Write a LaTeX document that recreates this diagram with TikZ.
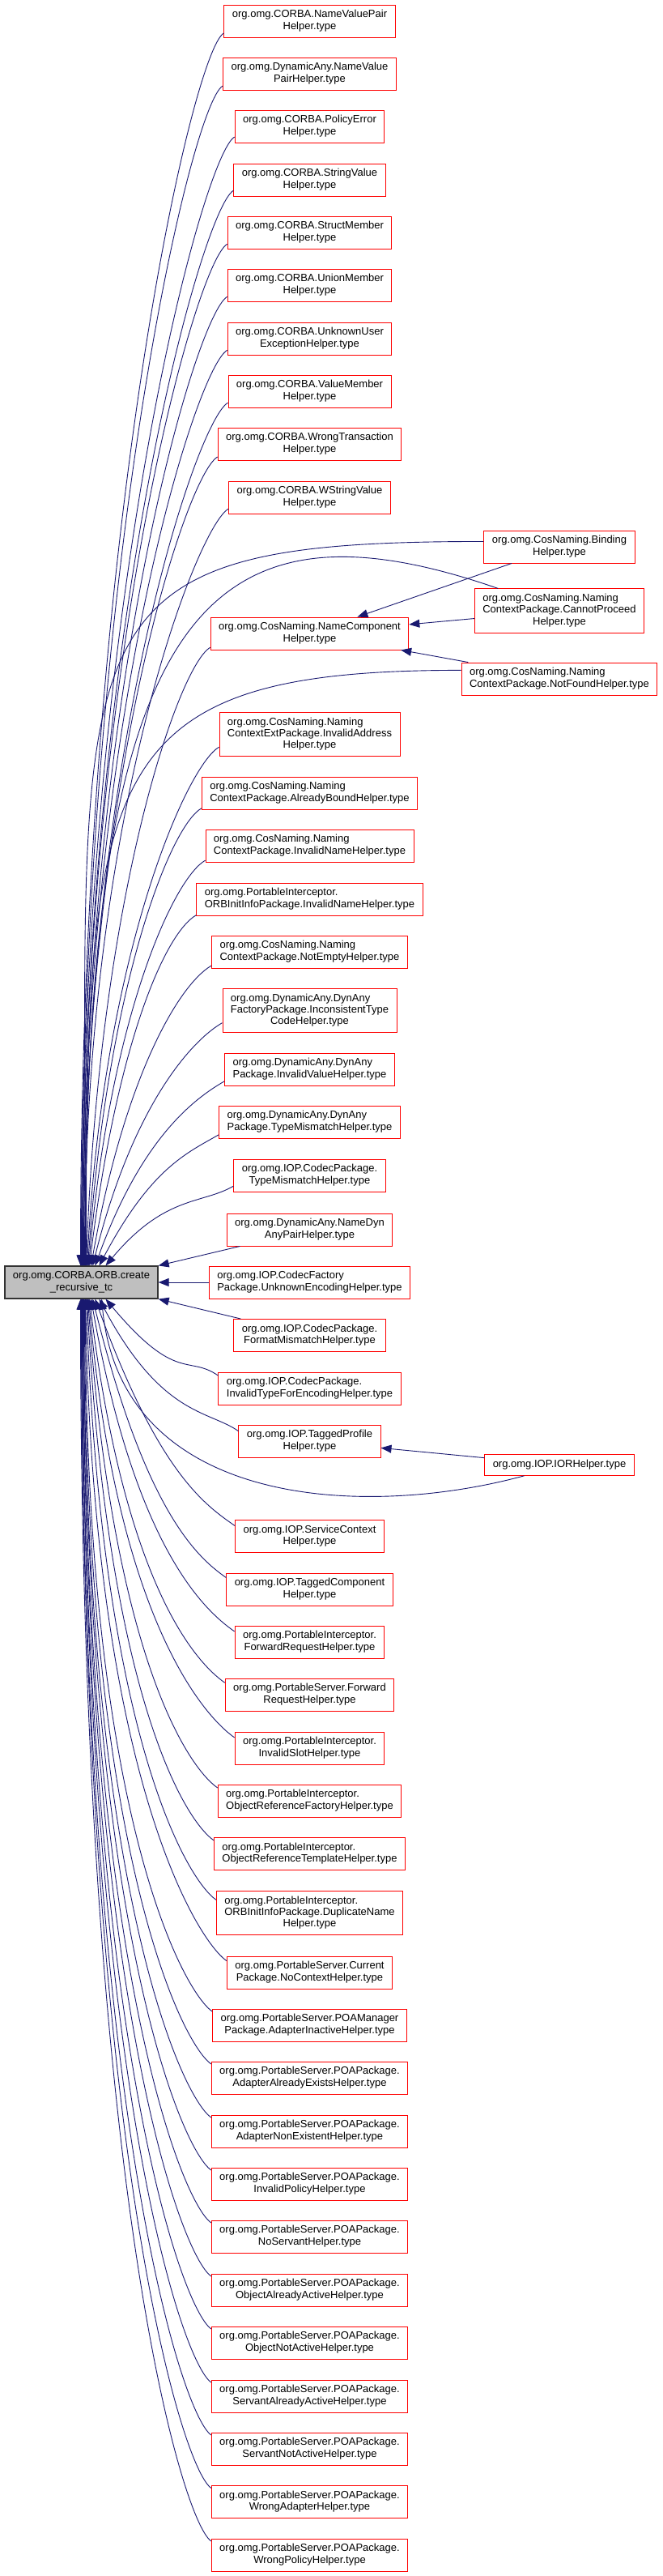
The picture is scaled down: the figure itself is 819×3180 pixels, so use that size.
\documentclass[tikz,border=0pt]{standalone}
\usepackage{fontspec}
\setmainfont{Liberation Sans}
\usetikzlibrary{arrows.meta}
\definecolor{edgec}{RGB}{25,25,112}
\definecolor{boxc}{RGB}{255,0,0}
\definecolor{focusc}{RGB}{191,191,191}
\newcommand{\oneline}[1]{\begin{tabular}{@{}c@{}}#1\end{tabular}}
\newcommand{\twoline}[2]{\begin{tabular}{@{}l@{}}#1\\\multicolumn{1}{@{}c@{}}{#2}\end{tabular}}
\newcommand{\threeline}[3]{\begin{tabular}{@{}l@{}}#1\\#2\\\multicolumn{1}{@{}c@{}}{#3}\end{tabular}}

\begin{document}
\begin{tikzpicture}[x=1pt, y=1pt, >={Triangle[length=13pt,width=10pt]},
  helper/.style={draw=boxc, fill=white, line width=0.9pt, inner xsep=10pt, inner ysep=5.7pt,
    font=\fontsize{13}{14.3}\selectfont},
  mainbox/.style={helper, draw=black!80, line width=1.2pt, fill=focusc},
  calledge/.style={->, draw=edgec, line width=0.9pt}]
  \useasboundingbox (0,0) rectangle (819,-3180);

  % the function itself
  \node[mainbox] (orbrtc) at (100.5,-1583) {\twoline{org.omg.CORBA.ORB.create}{\_recursive\_tc}};

  % callers, middle column
  \node[helper] (nvp)       at (382.5,-26)     {\twoline{org.omg.CORBA.NameValuePair}{Helper.type}};
  \node[helper] (dnvp)      at (382.5,-91)     {\twoline{org.omg.DynamicAny.NameValue}{PairHelper.type}};
  \node[helper] (polerr)    at (382.5,-156)    {\twoline{org.omg.CORBA.PolicyError}{Helper.type}};
  \node[helper] (strval)    at (382.5,-222)    {\twoline{org.omg.CORBA.StringValue}{Helper.type}};
  \node[helper] (structm)   at (382.5,-287)    {\twoline{org.omg.CORBA.StructMember}{Helper.type}};
  \node[helper] (unionm)    at (382.5,-352)    {\twoline{org.omg.CORBA.UnionMember}{Helper.type}};
  \node[helper] (unkuser)   at (382.5,-418)    {\twoline{org.omg.CORBA.UnknownUser}{ExceptionHelper.type}};
  \node[helper] (valuem)    at (382.5,-483)    {\twoline{org.omg.CORBA.ValueMember}{Helper.type}};
  \node[helper] (wrongtx)   at (382.5,-548)    {\twoline{org.omg.CORBA.WrongTransaction}{Helper.type}};
  \node[helper] (wstrval)   at (382.5,-614)    {\twoline{org.omg.CORBA.WStringValue}{Helper.type}};
  \node[helper] (namecomp)  at (382.5,-782)    {\twoline{org.omg.CosNaming.NameComponent}{Helper.type}};
  \node[helper] (invaddr)   at (382.5,-906.5)  {\threeline{org.omg.CosNaming.Naming}{ContextExtPackage.InvalidAddress}{Helper.type}};
  \node[helper] (albound)   at (382.5,-979)    {\twoline{org.omg.CosNaming.Naming}{ContextPackage.AlreadyBoundHelper.type}};
  \node[helper] (invname)   at (382.5,-1044)   {\twoline{org.omg.CosNaming.Naming}{ContextPackage.InvalidNameHelper.type}};
  \node[helper] (piinvname) at (382.5,-1110)   {\twoline{org.omg.PortableInterceptor.}{ORBInitInfoPackage.InvalidNameHelper.type}};
  \node[helper] (notempty)  at (382.5,-1175)   {\twoline{org.omg.CosNaming.Naming}{ContextPackage.NotEmptyHelper.type}};
  \node[helper] (inconsist) at (382.5,-1247.5) {\threeline{org.omg.DynamicAny.DynAny}{FactoryPackage.InconsistentType}{CodeHelper.type}};
  \node[helper] (invvalue)  at (382.5,-1320)   {\twoline{org.omg.DynamicAny.DynAny}{Package.InvalidValueHelper.type}};
  \node[helper] (dtypemis)  at (382.5,-1385)   {\twoline{org.omg.DynamicAny.DynAny}{Package.TypeMismatchHelper.type}};
  \node[helper] (ctypemis)  at (382.5,-1451)   {\twoline{org.omg.IOP.CodecPackage.}{TypeMismatchHelper.type}};
  \node[helper] (namedyn)   at (382.5,-1518)   {\twoline{org.omg.DynamicAny.NameDyn}{AnyPairHelper.type}};
  \node[helper] (unkenc)    at (382.5,-1583)   {\twoline{org.omg.IOP.CodecFactory}{Package.UnknownEncodingHelper.type}};
  \node[helper] (fmtmis)    at (382.5,-1648.5) {\twoline{org.omg.IOP.CodecPackage.}{FormatMismatchHelper.type}};
  \node[helper] (invtype)   at (382.5,-1714)   {\twoline{org.omg.IOP.CodecPackage.}{InvalidTypeForEncodingHelper.type}};
  \node[helper] (tprofile)  at (382.5,-1779)   {\twoline{org.omg.IOP.TaggedProfile}{Helper.type}};
  \node[helper] (svcctx)    at (382.5,-1896.5) {\twoline{org.omg.IOP.ServiceContext}{Helper.type}};
  \node[helper] (tcomp)     at (382.5,-1962)   {\twoline{org.omg.IOP.TaggedComponent}{Helper.type}};
  \node[helper] (pifwd)     at (382.5,-2027)   {\twoline{org.omg.PortableInterceptor.}{ForwardRequestHelper.type}};
  \node[helper] (psfwd)     at (382.5,-2092)   {\twoline{org.omg.PortableServer.Forward}{RequestHelper.type}};
  \node[helper] (invslot)   at (382.5,-2158)   {\twoline{org.omg.PortableInterceptor.}{InvalidSlotHelper.type}};
  \node[helper] (orfact)    at (382.5,-2223)   {\twoline{org.omg.PortableInterceptor.}{ObjectReferenceFactoryHelper.type}};
  \node[helper] (ortempl)   at (382.5,-2288.5) {\twoline{org.omg.PortableInterceptor.}{ObjectReferenceTemplateHelper.type}};
  \node[helper] (dupname)   at (382.5,-2361.5) {\threeline{org.omg.PortableInterceptor.}{ORBInitInfoPackage.DuplicateName}{Helper.type}};
  \node[helper] (nocontext) at (382.5,-2435)   {\twoline{org.omg.PortableServer.Current}{Package.NoContextHelper.type}};
  \node[helper] (adinact)   at (382.5,-2500)   {\twoline{org.omg.PortableServer.POAManager}{Package.AdapterInactiveHelper.type}};
  \node[helper] (adexists)  at (382.5,-2565)   {\twoline{org.omg.PortableServer.POAPackage.}{AdapterAlreadyExistsHelper.type}};
  \node[helper] (adnonex)   at (382.5,-2631)   {\twoline{org.omg.PortableServer.POAPackage.}{AdapterNonExistentHelper.type}};
  \node[helper] (invpolicy) at (382.5,-2696)   {\twoline{org.omg.PortableServer.POAPackage.}{InvalidPolicyHelper.type}};
  \node[helper] (noservant) at (382.5,-2761)   {\twoline{org.omg.PortableServer.POAPackage.}{NoServantHelper.type}};
  \node[helper] (objactive) at (382.5,-2827)   {\twoline{org.omg.PortableServer.POAPackage.}{ObjectAlreadyActiveHelper.type}};
  \node[helper] (objnotact) at (382.5,-2892)   {\twoline{org.omg.PortableServer.POAPackage.}{ObjectNotActiveHelper.type}};
  \node[helper] (svtactive) at (382.5,-2958)   {\twoline{org.omg.PortableServer.POAPackage.}{ServantAlreadyActiveHelper.type}};
  \node[helper] (svtnotact) at (382.5,-3023)   {\twoline{org.omg.PortableServer.POAPackage.}{ServantNotActiveHelper.type}};
  \node[helper] (wrongadp)  at (382.5,-3088.5) {\twoline{org.omg.PortableServer.POAPackage.}{WrongAdapterHelper.type}};
  \node[helper] (wrongpol)  at (382.5,-3154)   {\twoline{org.omg.PortableServer.POAPackage.}{WrongPolicyHelper.type}};

  % callers, right column
  \node[helper] (binding)  at (691,-675)    {\twoline{org.omg.CosNaming.Binding}{Helper.type}};
  \node[helper] (cannotp)  at (691,-754)    {\threeline{org.omg.CosNaming.Naming}{ContextPackage.CannotProceed}{Helper.type}};
  \node[helper] (notfound) at (691,-838)    {\twoline{org.omg.CosNaming.Naming}{ContextPackage.NotFoundHelper.type}};
  \node[helper] (iorh)     at (691,-1808.5) {\oneline{org.omg.IOP.IORHelper.type}};

  % right column -> middle column
  \draw[calledge] (binding) -- (namecomp);
  \draw[calledge] (cannotp) -- (namecomp);
  \draw[calledge] (notfound) -- (namecomp);
  \draw[calledge] (iorh) -- (tprofile);

  % upper fan (name / end shift / arrival angle / arrival pull)
  \foreach \n/\xs/\ia/\d in {ctypemis/30pt/50/114pt, dtypemis/22pt/62/137pt, invvalue/17pt/70/166pt,
      inconsist/14pt/76/202pt, notempty/12pt/80/240pt, piinvname/10pt/83/275pt, invname/9pt/85/311pt,
      albound/8pt/86/347pt, invaddr/7pt/87/389pt, namecomp/6pt/88/458pt, wstrval/4pt/90/556pt,
      wrongtx/3pt/90/594pt, valuem/3pt/90/632pt, unkuser/2pt/90/669pt, unionm/2pt/90/708pt,
      structm/1pt/90/745pt, strval/1pt/90/783pt, polerr/0pt/90/822pt, dnvp/0pt/90/860pt, nvp/-1pt/90/897pt}
    \draw[calledge] (\n.188) .. controls +(210:45pt) and +(\ia:\d) .. ([xshift=\xs]orbrtc.north);
  \draw[calledge] (binding.176) .. controls +(-537,0) and +(0,803) .. ([xshift=5pt]orbrtc.north);
  \draw[calledge] (cannotp.160) .. controls +(-367,127) and +(0,803) .. ([xshift=5pt]orbrtc.north);
  \draw[calledge] (notfound.175) .. controls +(-450,0) and +(0,613) .. ([xshift=6pt]orbrtc.north);

  % nearest callers
  \draw[calledge] (namedyn) -- (orbrtc.north east);
  \draw[calledge] (unkenc) -- (orbrtc);
  \draw[calledge] (fmtmis) -- (orbrtc.south east);

  % lower fan
  \foreach \n/\xs/\ia/\d in {invtype/30pt/-50/136pt, tprofile/22pt/-62/164pt, svcctx/17pt/-70/229pt,
      tcomp/14pt/-76/269pt, pifwd/12pt/-80/312pt, psfwd/10pt/-83/354pt, invslot/9pt/-85/398pt,
      orfact/8pt/-86/442pt, ortempl/7pt/-87/487pt, dupname/6pt/-88/537pt, nocontext/5pt/-89/588pt,
      adinact/5pt/-90/633pt, adexists/4pt/-90/678pt, adnonex/3pt/-90/724pt, invpolicy/3pt/-90/769pt,
      noservant/2pt/-90/814pt, objactive/2pt/-90/860pt, objnotact/1pt/-90/906pt,
      svtactive/1pt/-90/952pt, svtnotact/0pt/-90/998pt, wrongadp/0pt/-90/1043pt, wrongpol/-1pt/-90/1089pt}
    \draw[calledge] (\n.172) .. controls +(145:45pt) and +(\ia:\d) .. ([xshift=\xs]orbrtc.south);
  \draw[calledge] (iorh.197) .. controls +(-199,-54) and +(25,-257) .. ([xshift=25pt]orbrtc.south);
\end{tikzpicture}
\end{document}
